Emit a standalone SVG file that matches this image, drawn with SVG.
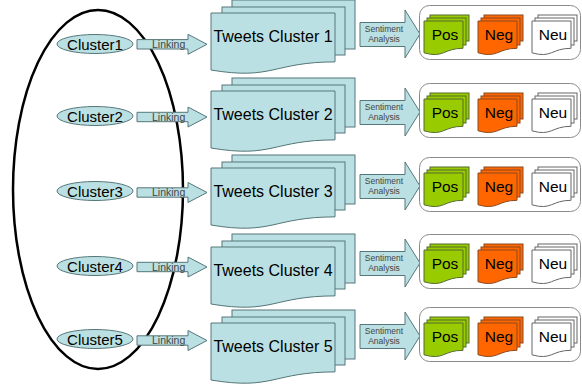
<svg xmlns="http://www.w3.org/2000/svg" width="582" height="385" viewBox="0 0 582 385">
<style>
.teal{fill:#bbe0e3;stroke:#56777a;stroke-width:1}
.lbl{font-family:"Liberation Sans",Arial,sans-serif;fill:#000}
.small{font-family:"Liberation Sans",Arial,sans-serif;fill:#444;font-size:10.5px}
.sa{font-family:"Liberation Sans",Arial,sans-serif;fill:#444;font-size:8.5px;text-anchor:middle}
.box{fill:#fff;stroke:#8a8a8a;stroke-width:1}
.pos{fill:#99cc00;stroke:#556b2f;stroke-width:1}
.neg{fill:#ff6600;stroke:#8a4a20;stroke-width:1}
.neu{fill:#fff;stroke:#666;stroke-width:1}
</style>
<defs>
<g id="tw">
<rect class="teal" x="232" y="0" width="123" height="49"/>
<rect class="teal" x="222" y="7" width="123" height="48"/>
<path class="teal" d="M211,13 H335 V61.9 C273,61.9 273,80.5 211,70 Z"/>
</g>
<g id="sm">
<rect x="430" y="15" width="39" height="26"/>
<rect x="427" y="18" width="39" height="27"/>
<path d="M424,21 H463 V48.3 C443.5,48.3 443.5,58.6 424,52.8 Z"/>
</g>
<polygon id="sarrow" class="teal" points="360,22.5 405,22.5 405,10 420,34 405,58 405,46.5 360,46.5"/>
<polygon id="larrow" class="teal" points="137,-4.7 188,-4.7 188,-10 207,0 188,10 188,4.7 137,4.7"/>
</defs>

<g id="group-ellipse">
<ellipse cx="98" cy="189.5" rx="85" ry="179.5" fill="none" stroke="#000" stroke-width="2.5"/>
</g>

<g id="connectors">
<g transform="translate(0,44.3)"><use href="#larrow"/><text class="small" x="152" y="3.5">Linking</text></g>
<g transform="translate(0,117)"><use href="#larrow"/><text class="small" x="152" y="3.5">Linking</text></g>
<g transform="translate(0,192.5)"><use href="#larrow"/><text class="small" x="152" y="3.5">Linking</text></g>
<g transform="translate(0,267)"><use href="#larrow"/><text class="small" x="152" y="3.5">Linking</text></g>
<g transform="translate(0,340.5)"><use href="#larrow"/><text class="small" x="152" y="3.5">Linking</text></g>

<g transform="translate(0,0)"><use href="#sarrow"/><text class="sa" x="384" y="31.5">Sentiment</text><text class="sa" x="384" y="41.5">Analysis</text></g>
<g transform="translate(0,78)"><use href="#sarrow"/><text class="sa" x="384" y="31.5">Sentiment</text><text class="sa" x="384" y="41.5">Analysis</text></g>
<g transform="translate(0,152)"><use href="#sarrow"/><text class="sa" x="384" y="31.5">Sentiment</text><text class="sa" x="384" y="41.5">Analysis</text></g>
<g transform="translate(0,229)"><use href="#sarrow"/><text class="sa" x="384" y="31.5">Sentiment</text><text class="sa" x="384" y="41.5">Analysis</text></g>
<g transform="translate(0,302)"><use href="#sarrow"/><text class="sa" x="384" y="31.5">Sentiment</text><text class="sa" x="384" y="41.5">Analysis</text></g>
</g>

<g id="cluster1"><ellipse class="teal" cx="95" cy="44" rx="38" ry="9.5"/><text class="lbl" x="95" y="49.5" font-size="15" text-anchor="middle">Cluster1</text></g>
<g id="cluster2"><ellipse class="teal" cx="95" cy="116" rx="38" ry="9.5"/><text class="lbl" x="95" y="121.5" font-size="15" text-anchor="middle">Cluster2</text></g>
<g id="cluster3"><ellipse class="teal" cx="95" cy="191" rx="38" ry="9.5"/><text class="lbl" x="95" y="196.5" font-size="15" text-anchor="middle">Cluster3</text></g>
<g id="cluster4"><ellipse class="teal" cx="95" cy="266" rx="38" ry="9.5"/><text class="lbl" x="95" y="271.5" font-size="15" text-anchor="middle">Cluster4</text></g>
<g id="cluster5"><ellipse class="teal" cx="95" cy="339" rx="38" ry="9.5"/><text class="lbl" x="95" y="344.5" font-size="15" text-anchor="middle">Cluster5</text></g>

<g id="tweets1" transform="translate(0,0)"><use href="#tw"/><text class="lbl" x="273" y="42" font-size="16" text-anchor="middle">Tweets Cluster 1</text></g>
<g id="tweets2" transform="translate(0,78)"><use href="#tw"/><text class="lbl" x="273" y="42" font-size="16" text-anchor="middle">Tweets Cluster 2</text></g>
<g id="tweets3" transform="translate(0,155)"><use href="#tw"/><text class="lbl" x="273" y="42" font-size="16" text-anchor="middle">Tweets Cluster 3</text></g>
<g id="tweets4" transform="translate(0,234)"><use href="#tw"/><text class="lbl" x="273" y="42" font-size="16" text-anchor="middle">Tweets Cluster 4</text></g>
<g id="tweets5" transform="translate(0,310)"><use href="#tw"/><text class="lbl" x="273" y="42" font-size="16" text-anchor="middle">Tweets Cluster 5</text></g>

<g id="result1" transform="translate(0,0)">
<rect class="box" x="419.5" y="5.5" width="161" height="54" rx="10"/>
<use href="#sm" class="pos"/><use href="#sm" class="neg" x="54"/><use href="#sm" class="neu" x="108"/>
<text class="lbl" x="445" y="39.5" font-size="15.5" text-anchor="middle">Pos</text>
<text class="lbl" x="499" y="39.5" font-size="15.5" text-anchor="middle">Neg</text>
<text class="lbl" x="553" y="39.5" font-size="15.5" text-anchor="middle">Neu</text>
</g>
<g id="result2" transform="translate(0,78)">
<rect class="box" x="419.5" y="5.5" width="161" height="54" rx="10"/>
<use href="#sm" class="pos"/><use href="#sm" class="neg" x="54"/><use href="#sm" class="neu" x="108"/>
<text class="lbl" x="445" y="39.5" font-size="15.5" text-anchor="middle">Pos</text>
<text class="lbl" x="499" y="39.5" font-size="15.5" text-anchor="middle">Neg</text>
<text class="lbl" x="553" y="39.5" font-size="15.5" text-anchor="middle">Neu</text>
</g>
<g id="result3" transform="translate(0,152)">
<rect class="box" x="419.5" y="5.5" width="161" height="54" rx="10"/>
<use href="#sm" class="pos"/><use href="#sm" class="neg" x="54"/><use href="#sm" class="neu" x="108"/>
<text class="lbl" x="445" y="39.5" font-size="15.5" text-anchor="middle">Pos</text>
<text class="lbl" x="499" y="39.5" font-size="15.5" text-anchor="middle">Neg</text>
<text class="lbl" x="553" y="39.5" font-size="15.5" text-anchor="middle">Neu</text>
</g>
<g id="result4" transform="translate(0,229)">
<rect class="box" x="419.5" y="5.5" width="161" height="54" rx="10"/>
<use href="#sm" class="pos"/><use href="#sm" class="neg" x="54"/><use href="#sm" class="neu" x="108"/>
<text class="lbl" x="445" y="39.5" font-size="15.5" text-anchor="middle">Pos</text>
<text class="lbl" x="499" y="39.5" font-size="15.5" text-anchor="middle">Neg</text>
<text class="lbl" x="553" y="39.5" font-size="15.5" text-anchor="middle">Neu</text>
</g>
<g id="result5" transform="translate(0,302)">
<rect class="box" x="419.5" y="5.5" width="161" height="54" rx="10"/>
<use href="#sm" class="pos"/><use href="#sm" class="neg" x="54"/><use href="#sm" class="neu" x="108"/>
<text class="lbl" x="445" y="39.5" font-size="15.5" text-anchor="middle">Pos</text>
<text class="lbl" x="499" y="39.5" font-size="15.5" text-anchor="middle">Neg</text>
<text class="lbl" x="553" y="39.5" font-size="15.5" text-anchor="middle">Neu</text>
</g>
</svg>
